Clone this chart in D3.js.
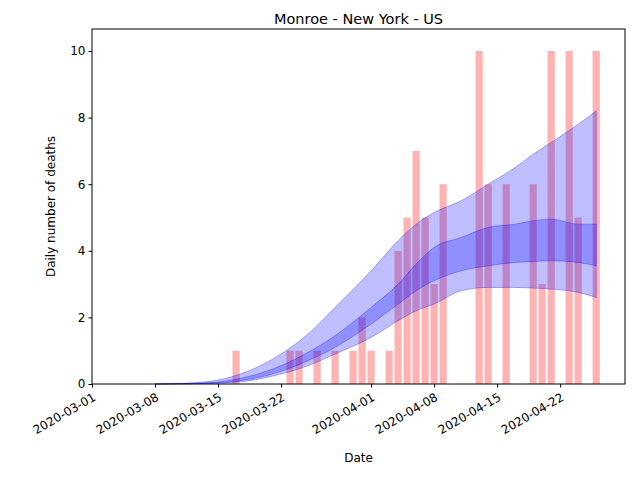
<!DOCTYPE html>
<html>
<head>
<meta charset="UTF-8">
<script src="https://d3js.org/d3.v7.min.js"></script>
<style>
  body { margin: 0; background: #fff; }
  text { font-family: "DejaVu Sans", sans-serif; }
</style>
</head>
<body>
<svg id="chart" width="640" height="480"></svg>
<script>
// daily deaths (bars)
const barDates = ["2020-03-17","2020-03-23","2020-03-24","2020-03-26","2020-03-28","2020-03-30","2020-03-31","2020-04-01",
  "2020-04-03","2020-04-04","2020-04-05","2020-04-06","2020-04-07","2020-04-08","2020-04-09","2020-04-13","2020-04-14",
  "2020-04-16","2020-04-19","2020-04-20","2020-04-21","2020-04-23","2020-04-24","2020-04-26"];
const barValues = [1,1,1,1,1,1,2,1,1,4,5,7,5,3,6,10,6,6,6,3,10,10,5,10];

// model bands
const bandDates = ["2020-03-08","2020-03-12","2020-03-15","2020-03-18","2020-03-22","2020-03-25","2020-03-28","2020-04-01",
  "2020-04-04","2020-04-06","2020-04-08","2020-04-11","2020-04-14","2020-04-17","2020-04-19","2020-04-21","2020-04-24","2020-04-26"];
const outerHi = [0,0.03,0.12,0.35,0.9,1.5,2.3,3.4,4.3,4.8,5.15,5.5,6.0,6.5,6.9,7.25,7.8,8.2];
const outerLo = [0,0.01,0.02,0.08,0.3,0.55,0.9,1.4,1.9,2.2,2.4,2.8,2.9,2.9,2.88,2.85,2.75,2.6];
const innerHi = [0,0.02,0.06,0.2,0.55,0.95,1.45,2.3,3.0,3.6,4.1,4.4,4.7,4.8,4.9,4.95,4.8,4.8];
const innerLo = [0,0.01,0.03,0.12,0.38,0.7,1.1,1.8,2.4,2.8,3.1,3.4,3.55,3.65,3.68,3.7,3.65,3.55];

const xTicks = ["2020-03-01","2020-03-08","2020-03-15","2020-03-22","2020-04-01","2020-04-08","2020-04-15","2020-04-22"];

const parse = d3.timeParse("%Y-%m-%d");
const day = 864e5;
const svg = d3.select("#chart");
const m = { l: 92, r: 625, t: 29, b: 384 };

const x = d3.scaleTime()
  .domain([parse("2020-03-01"), new Date(+parse("2020-03-01") + 59.2 * day)])
  .range([m.l, m.r]);
const y = d3.scaleLinear().domain([0, 10.66]).range([m.b, m.t]);

const bw = x(new Date(+parse("2020-03-01") + 0.8 * day)) - x(parse("2020-03-01"));

svg.append("g").selectAll("rect").data(barDates).join("rect")
  .attr("x", (d) => x(parse(d)) - bw / 2)
  .attr("width", bw)
  .attr("y", (d, i) => y(barValues[i]))
  .attr("height", (d, i) => y(0) - y(barValues[i]))
  .attr("fill", "#ff0000").attr("fill-opacity", 0.3);

function band(lo, hi) {
  const pts = bandDates.map((d, i) => ({ t: parse(d), lo: lo[i], hi: hi[i] }));
  svg.append("path").datum(pts)
    .attr("d", d3.area().curve(d3.curveMonotoneX).x((p) => x(p.t)).y0((p) => y(p.lo)).y1((p) => y(p.hi)))
    .attr("fill", "#0000ff").attr("fill-opacity", 0.25)
    .attr("stroke", "#0000ff").attr("stroke-opacity", 0.3);
}
band(outerLo, outerHi);
band(innerLo, innerHi);

// frame
svg.append("rect").attr("x", m.l).attr("y", m.t).attr("width", m.r - m.l).attr("height", m.b - m.t)
  .attr("fill", "none").attr("stroke", "#000");

const gx = svg.append("g").attr("transform", `translate(0,${m.b})`)
  .call(d3.axisBottom(x).tickValues(xTicks.map(parse)).tickFormat(d3.timeFormat("%Y-%m-%d")).tickSizeOuter(0).tickSize(3.5));
gx.select(".domain").remove();
gx.selectAll("text").attr("font-size", 12).attr("fill", "#000")
  .attr("text-anchor", "end").attr("x", 0).attr("y", 0).attr("dy", "0.35em")
  .attr("transform", "translate(2,12) rotate(-30)");

const gy = svg.append("g").attr("transform", `translate(${m.l},0)`)
  .call(d3.axisLeft(y).tickValues([0, 2, 4, 6, 8, 10]).tickSize(3.5));
gy.select(".domain").remove();
gy.selectAll("text").attr("font-size", 12).attr("fill", "#000");

svg.append("text").attr("x", (m.l + m.r) / 2).attr("y", 24).attr("text-anchor", "middle")
  .attr("font-size", 14.5).text("Monroe - New York - US");
svg.append("text").attr("x", (m.l + m.r) / 2).attr("y", 462).attr("text-anchor", "middle")
  .attr("font-size", 12).text("Date");
svg.append("text").attr("transform", `translate(55,${(m.t + m.b) / 2}) rotate(-90)`)
  .attr("text-anchor", "middle").attr("font-size", 12).text("Daily number of deaths");
</script>
</body>
</html>
